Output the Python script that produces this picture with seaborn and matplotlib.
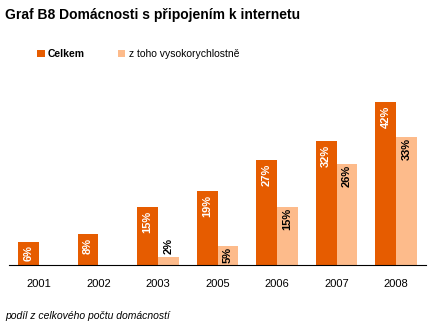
import matplotlib
matplotlib.use("Agg")
import matplotlib.pyplot as plt
import seaborn as sns
import pandas as pd
import numpy as np
from matplotlib.patches import Patch

years = ["2001", "2002", "2003", "2005", "2006", "2007", "2008"]
celkem = [6, 8, 15, 19, 27, 32, 42]
vysoko = [np.nan, np.nan, 2, 5, 15, 26, 33]
series = ["Celkem", "z toho vysokorychlostně"]

df = pd.DataFrame({
    "rok": years * 2,
    "hodnota": celkem + vysoko,
    "serie": [series[0]] * len(years) + [series[1]] * len(years),
})

sns.set_style("white")
plt.rcParams["font.family"] = ["Liberation Sans", "DejaVu Sans"]
plt.rcParams["text.color"] = "black"
plt.rcParams["xtick.color"] = "black"

dark = "#E65C00"
light = "#FDBB8B"

fig = plt.figure(figsize=(4.32, 3.27), dpi=100)
ax = fig.add_axes([0.021, 0.1896, 0.965, 0.535])

sns.barplot(data=df, x="rok", y="hodnota", hue="serie", order=years,
            hue_order=series, palette=[dark, light], width=0.7,
            saturation=1, ax=ax, legend=False, edgecolor="none")

ax.set_ylim(0, 45)
ax.set_xlim(-0.5, len(years) - 0.5)
ax.set_xlabel("")
ax.set_ylabel("")
ax.set_yticks([])
for s in ["top", "right", "left"]:
    ax.spines[s].set_visible(False)
ax.spines["bottom"].set_color("black")
ax.spines["bottom"].set_linewidth(0.8)

ax.set_xticks(range(len(years)))
ax.set_xticklabels(years, fontsize=8, color="black")
ax.tick_params(axis="x", which="major", length=0, pad=10)
ax.set_xticks(np.arange(-0.5, len(years), 1.0), minor=True)
ax.tick_params(axis="x", which="minor", length=5, width=0.8, color="black", direction="out")

for p in ax.patches:
    h = p.get_height()
    if h is None or np.isnan(h) or h <= 0:
        continue
    cx = p.get_x() + p.get_width() / 2
    is_dark = np.allclose(p.get_facecolor()[:3], matplotlib.colors.to_rgb(dark), atol=0.02)
    txt = f"{int(round(h))}%"
    if is_dark:
        ax.text(cx, h - 1.0, txt, rotation=90, ha="center", va="top",
                color="white", fontsize=8, fontweight="bold")
    else:
        if h < 4:
            ax.text(cx, h + 0.8, txt, rotation=90, ha="center", va="bottom",
                    color="black", fontsize=8, fontweight="bold")
        else:
            ax.text(cx, h - 0.3, txt, rotation=90, ha="center", va="top",
                    color="black", fontsize=8, fontweight="bold")

fig.text(0.012, 0.955, "Graf B8 Domácnosti s připojením k internetu",
         fontsize=10, fontweight="bold", ha="left", va="center", color="black")

handles = [Patch(facecolor=dark, edgecolor="none"), Patch(facecolor=light, edgecolor="none")]
leg = fig.legend(handles, series, loc="center left", bbox_to_anchor=(0.065, 0.835),
                 ncol=2, frameon=False, fontsize=7.5, handlelength=0.7, handleheight=0.7,
                 handletextpad=0.3, columnspacing=3.2)
leg.get_texts()[0].set_fontweight("bold")
for t in leg.get_texts():
    t.set_color("black")

fig.text(0.012, 0.033, "podíl z celkového počtu domácností", fontsize=7.5,
         style="italic", ha="left", va="center", color="black")

fig.savefig("out.png", dpi=100)
